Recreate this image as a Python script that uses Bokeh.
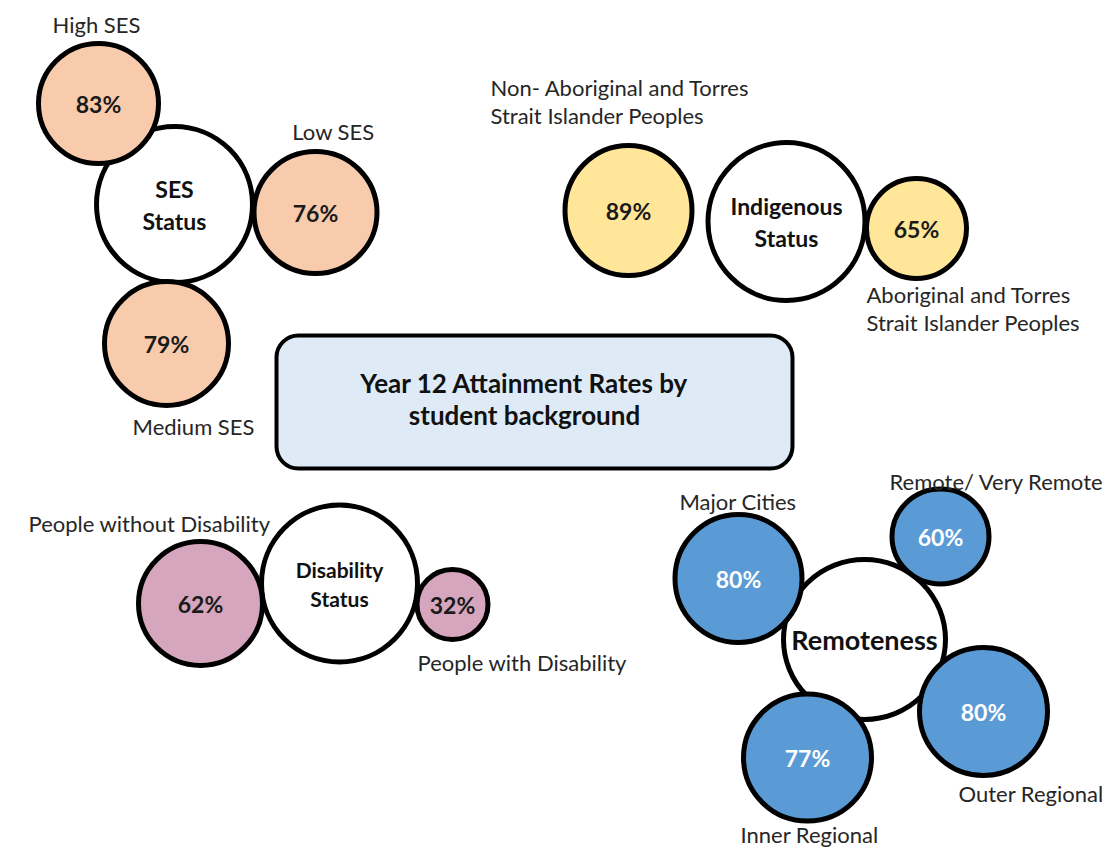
from bokeh.plotting import figure
from bokeh.models import ColumnDataSource, Range1d, BoxAnnotation
from bokeh.core.properties import value
from bokeh.embed import file_html
from bokeh.resources import INLINE

# ---- data ----
groups = ["SES Status", "Indigenous Status", "Disability Status", "Remoteness"]
ses_categories = ["High SES", "Low SES", "Medium SES"]
ses_values = [83, 76, 79]
ind_categories = ["Non- Aboriginal and Torres\nStrait Islander Peoples",
                  "Aboriginal and Torres\nStrait Islander Peoples"]
ind_values = [89, 65]
dis_categories = ["People without Disability", "People with Disability"]
dis_values = [62, 32]
rem_categories = ["Major Cities", "Remote/ Very Remote", "Outer Regional", "Inner Regional"]
rem_values = [80, 60, 80, 77]
title_text = "Year 12 Attainment Rates by\nstudent background"

# ---- layout (pixel-space positions) ----
hub_layout = {
    "SES Status": (174, 204, 156, 156),
    "Indigenous Status": (786, 221, 157, 158),
    "Disability Status": (339, 583, 156, 157),
    "Remoteness": (864, 639, 162, 160),
}
hub_text = {"SES Status": "SES\nStatus", "Indigenous Status": "Indigenous\nStatus",
            "Disability Status": "Disability\nStatus", "Remoteness": "Remoteness"}
hub_font = {"SES Status": "23px", "Indigenous Status": "23px",
            "Disability Status": "21px", "Remoteness": "27px"}
hub_gap = {"SES Status": 32, "Indigenous Status": 32, "Disability Status": 29, "Remoteness": 0}

# x, y, w, h of bubble; label anchor x, y, align
ses_layout = [(98, 103, 120, 120, 96, 24, "center"),
              (315, 212, 123, 122, 333, 131, "center"),
              (166, 343, 124, 124, 193, 426, "center")]
ind_layout = [(628, 210, 127, 130, 490, 87, "left"),
              (916, 228, 100, 100, 866, 294, "left")]
dis_layout = [(200, 603, 124, 124, 28, 523, "left"),
              (452, 604, 71, 70, 417, 662, "left")]
rem_layout = [(738, 578, 127, 128, 679, 501, "left"),
              (940, 536, 97, 95, 889, 481, "left"),
              (983, 711, 128, 128, 958, 793, "left"),
              (807, 757, 128, 127, 740, 834, "left")]

colors = {"SES Status": "#F8CBAD", "Indigenous Status": "#FFE699",
          "Disability Status": "#D5A6BD", "Remoteness": "#5B9BD5"}
pct_colors = {"SES Status": "#1a1a1a", "Indigenous Status": "#1a1a1a",
              "Disability Status": "#1a1a1a", "Remoteness": "#ffffff"}

p = figure(width=1110, height=847, output_backend="svg", toolbar_location=None,
           x_range=Range1d(0, 1110), y_range=Range1d(847, 0),
           min_border=0, outline_line_color=None)
p.axis.visible = False
p.grid.visible = False
p.background_fill_color = "white"
p.border_fill_color = "white"

FONT = value("Lato")

sets = [("SES Status", ses_categories, ses_values, ses_layout),
        ("Indigenous Status", ind_categories, ind_values, ind_layout),
        ("Disability Status", dis_categories, dis_values, dis_layout),
        ("Remoteness", rem_categories, rem_values, rem_layout)]

# hub circles (drawn first so the value bubbles sit over them)
for g in groups:
    x, y, w, h = hub_layout[g]
    hsrc = ColumnDataSource(dict(x=[x], y=[y], w=[w], h=[h]))
    p.ellipse(x="x", y="y", width="w", height="h", source=hsrc,
              fill_color="white", line_color="black", line_width=5)

# value bubbles
for g, cats, vals, lay in sets:
    src = ColumnDataSource(dict(
        x=[l[0] for l in lay], y=[l[1] for l in lay],
        w=[l[2] for l in lay], h=[l[3] for l in lay],
        pct=[f"{v}%" for v in vals]))
    p.ellipse(x="x", y="y", width="w", height="h", source=src,
              fill_color=colors[g], line_color="black", line_width=5)
    p.text(x="x", y="y", text="pct", source=src, text_align="center",
           text_baseline="middle", text_font=FONT, text_font_style="bold",
           text_font_size="23px", text_color=pct_colors[g])
    for c, l in zip(cats, lay):
        lines = c.split("\n")
        for i, ln in enumerate(lines):
            yy = l[5] + i * 28
            lsrc = ColumnDataSource(dict(x=[l[4]], y=[yy], t=[ln]))
            p.text(x="x", y="y", text="t", source=lsrc, text_align=l[6],
                   text_baseline="middle", text_font=FONT, text_font_size="22px",
                   text_color="#262626")

# hub texts
for g in groups:
    x, y, w, h = hub_layout[g]
    lines = hub_text[g].split("\n")
    for i, ln in enumerate(lines):
        off = (i - (len(lines) - 1) / 2) * hub_gap[g]
        tsrc = ColumnDataSource(dict(x=[x], y=[y + off], t=[ln]))
        p.text(x="x", y="y", text="t", source=tsrc, text_align="center",
               text_baseline="middle", text_font=FONT, text_font_style="bold",
               text_font_size=hub_font[g], text_color="#111111")

# title box
box = BoxAnnotation(left=276, right=792, top=335, bottom=468,
                    fill_color="#DEEBF7", fill_alpha=1.0, line_color="black",
                    line_alpha=1.0, line_width=4, border_radius=22, level="underlay")
p.add_layout(box)
tl = title_text.split("\n")
for i, ln in enumerate(tl):
    tsrc = ColumnDataSource(dict(x=[524], y=[382 + i * 32], t=[ln]))
    p.text(x="x", y="y", text="t", source=tsrc, text_align="center",
           text_baseline="middle", text_font=FONT, text_font_style="bold",
           text_font_size="26px", text_color="#111111")

open("out.html", "w").write(file_html(p, INLINE))
